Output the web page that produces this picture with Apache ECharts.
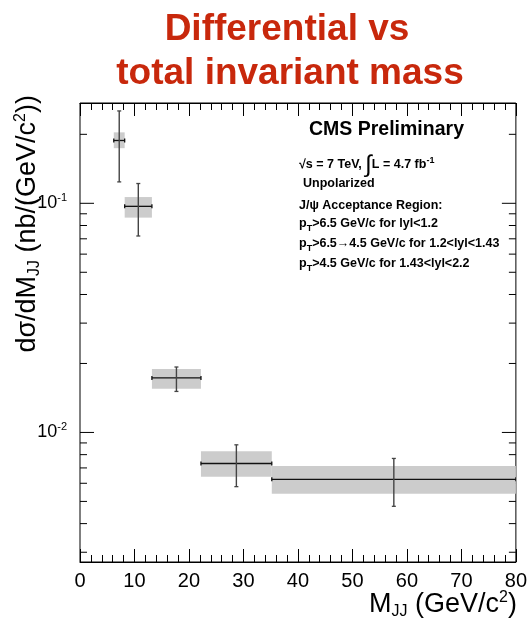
<!DOCTYPE html>
<html><head><meta charset="utf-8">
<script src="https://cdn.jsdelivr.net/npm/echarts@6/dist/echarts.min.js"></script>
<style>html,body{margin:0;padding:0;background:#fff}#c{width:530px;height:625px}</style>
</head><body><div id="c"></div>
<script>
// ---- data ----
const binCenters = [7.2, 10.7, 17.7, 28.7, 57.6];
const binLow     = [6.2, 8.2, 13.2, 22.2, 35.2];
const binHigh    = [8.2, 13.2, 22.2, 35.2, 80];
const values     = [0.188, 0.097, 0.0173, 0.00732, 0.00624];
const statLow    = [0.124, 0.072, 0.0151, 0.0058, 0.00476];
const statHigh   = [0.253, 0.122, 0.0193, 0.00883, 0.0077];
const sysLow     = [0.174, 0.0866, 0.0155, 0.0064, 0.0054];
const sysHigh    = [0.204, 0.1065, 0.0189, 0.00828, 0.00713];
const yMajorTicks = [0.01, 0.1];
const yMajorLabels = ['-2', '-1'];
const yMinorTicks = [0.003, 0.004, 0.005, 0.006, 0.007, 0.008, 0.009,
                     0.02, 0.03, 0.04, 0.05, 0.06, 0.07, 0.08, 0.09, 0.2];

const FONT = '"Liberation Sans", Arial, Helvetica, sans-serif';
const chart = echarts.init(document.getElementById('c'), null, {renderer: 'canvas'});

const pointData = binCenters.map((x, i) => [x, binLow[i], binHigh[i], values[i], statLow[i], statHigh[i], sysLow[i], sysHigh[i]]);
const tickData = yMajorTicks.map(v => [v, 1]).concat(yMinorTicks.map(v => [v, 0]));

function renderPoint(params, api) {
  const xc = api.value(0), xl = api.value(1), xh = api.value(2), y = api.value(3);
  const el = api.value(4), eh = api.value(5), sl = api.value(6), sh = api.value(7);
  const pC = api.coord([xc, y]), pL = api.coord([xl, y]), pH = api.coord([xh, y]);
  const pS1 = api.coord([xl, sl]), pS2 = api.coord([xh, sh]);
  const pE1 = api.coord([xc, el]), pE2 = api.coord([xc, eh]);
  const c = 2;
  return {type: 'group', children: [
    {type: 'rect', shape: {x: pS1[0], y: pS2[1], width: pS2[0] - pS1[0], height: pS1[1] - pS2[1]}, style: {fill: '#cccccc'}},
    {type: 'line', shape: {x1: pL[0], y1: pC[1], x2: pH[0], y2: pC[1]}, style: {stroke: '#111', lineWidth: 1.3}},
    {type: 'line', shape: {x1: pL[0], y1: pC[1] - c, x2: pL[0], y2: pC[1] + c}, style: {stroke: '#111', lineWidth: 1.3}},
    {type: 'line', shape: {x1: pH[0], y1: pC[1] - c, x2: pH[0], y2: pC[1] + c}, style: {stroke: '#111', lineWidth: 1.3}},
    {type: 'line', shape: {x1: pC[0], y1: pE1[1], x2: pC[0], y2: pE2[1]}, style: {stroke: '#444', lineWidth: 1.4}},
    {type: 'line', shape: {x1: pC[0] - c, y1: pE1[1], x2: pC[0] + c, y2: pE1[1]}, style: {stroke: '#444', lineWidth: 1.3}},
    {type: 'line', shape: {x1: pC[0] - c, y1: pE2[1], x2: pC[0] + c, y2: pE2[1]}, style: {stroke: '#444', lineWidth: 1.3}}
  ]};
}

function renderTick(params, api) {
  const v = api.value(0), major = api.value(1) === 1;
  const cs = params.coordSys;
  const p = api.coord([0, v]);
  const len = major ? 14 : 7;
  const left = cs.x, right = cs.x + cs.width;
  return {type: 'group', children: [
    {type: 'line', shape: {x1: left, y1: p[1], x2: left + len, y2: p[1]}, style: {stroke: '#000', lineWidth: 1}},
    {type: 'line', shape: {x1: right - len, y1: p[1], x2: right, y2: p[1]}, style: {stroke: '#000', lineWidth: 1}}
  ]};
}

const xAxisCommon = {
  type: 'value', min: 0, max: 80, interval: 10,
  axisLine: {show: true, lineStyle: {color: '#000', width: 1}},
  axisTick: {show: true, inside: true, length: 13, lineStyle: {color: '#000'}},
  minorTick: {show: true, splitNumber: 5, length: 7, lineStyle: {color: '#000'}},
  splitLine: {show: false}, minorSplitLine: {show: false}
};

const small = 'bold 12.5px ' + FONT;
const ptRich = {a: {font: small, fill: '#000'}, t: {font: 'bold 9px ' + FONT, fill: '#000', padding: [9, 0, 0, 0]}};

const option = {
  animation: false,
  backgroundColor: '#fff',
  grid: {left: 80, right: 13, top: 103, bottom: 63, show: true, borderColor: '#000', borderWidth: 1, backgroundColor: 'transparent'},
  xAxis: [
    Object.assign({}, xAxisCommon, {position: 'bottom',
      axisLabel: {show: true, fontSize: 20, color: '#000', fontFamily: FONT, margin: 9}}),
    Object.assign({}, xAxisCommon, {position: 'top', axisLabel: {show: false}})
  ],
  yAxis: [{
    type: 'log', logBase: 10, min: 0.00272, max: 0.274,
    axisLine: {show: false}, axisTick: {show: false}, splitLine: {show: false},
    axisLabel: {
      show: true, margin: 13, color: '#000', fontFamily: FONT,
      formatter: function (v) {
        for (let i = 0; i < yMajorTicks.length; i++) {
          if (Math.abs(v - yMajorTicks[i]) / yMajorTicks[i] < 1e-6) return '{b|10}{s|' + yMajorLabels[i] + '}';
        }
        return '';
      },
      rich: {
        b: {fontSize: 18, color: '#000', fontFamily: FONT},
        s: {fontSize: 11, color: '#000', fontFamily: FONT, padding: [0, 0, 10, 0]}
      }
    }
  }],
  series: [
    {type: 'custom', name: 'ticks', renderItem: renderTick, data: tickData, encode: {y: 0}, silent: true, clip: false},
    {type: 'custom', name: 'data', renderItem: renderPoint, data: pointData, encode: {x: 0, y: 3}, clip: true}
  ],
  graphic: [
    {type: 'text', x: 287, y: 30, style: {text: 'Differential vs', font: 'bold 37px ' + FONT, fill: '#c8280c', textAlign: 'center', textVerticalAlign: 'middle'}},
    {type: 'text', x: 290, y: 74, style: {text: 'total invariant mass', font: 'bold 37px ' + FONT, fill: '#c8280c', textAlign: 'center', textVerticalAlign: 'middle'}},
    {type: 'text', x: 309, y: 130, style: {text: 'CMS Preliminary', font: 'bold 19.5px ' + FONT, fill: '#000', textVerticalAlign: 'middle'}},
    {type: 'text', x: 299, y: 165, style: {
      text: '{a|√s = 7 TeV, }{i|∫}{a|L = 4.7 fb}{s|-1}', textVerticalAlign: 'middle',
      rich: {
        a: {font: small, fill: '#000'},
        i: {font: '24px ' + FONT, fill: '#000'},
        s: {font: 'bold 9px ' + FONT, fill: '#000', padding: [0, 0, 9, 0]}
      }}},
    {type: 'text', x: 303, y: 184, style: {text: 'Unpolarized', font: small, fill: '#000', textVerticalAlign: 'middle'}},
    {type: 'text', x: 299, y: 206, style: {text: 'J/ψ Acceptance Region:', font: small, fill: '#000', textVerticalAlign: 'middle'}},
    {type: 'text', x: 299, y: 224, style: {text: '{a|p}{t|T}{a|>6.5 GeV/c for lyl<1.2}', textVerticalAlign: 'middle', rich: ptRich}},
    {type: 'text', x: 299, y: 244, style: {text: '{a|p}{t|T}{a|>6.5→4.5 GeV/c for 1.2<lyl<1.43}', textVerticalAlign: 'middle', rich: ptRich}},
    {type: 'text', x: 299, y: 264, style: {text: '{a|p}{t|T}{a|>4.5 GeV/c for 1.43<lyl<2.2}', textVerticalAlign: 'middle', rich: ptRich}},
    {type: 'text', x: 517, y: 605, style: {
      text: '{a|M}{t|JJ}{a| (GeV/c}{s|2}{a|)}', textAlign: 'right', textVerticalAlign: 'middle',
      rich: {a: {font: '27px ' + FONT, fill: '#000'}, t: {font: '16px ' + FONT, fill: '#000', padding: [14, 0, 0, 0]},
             s: {font: '16px ' + FONT, fill: '#000', padding: [0, 0, 14, 0]}}}},
    {type: 'text', x: 28, y: 95, rotation: Math.PI / 2, style: {
      text: '{a|dσ/dM}{t|JJ}{a| (nb/(GeV/c}{s|2}{a|))}', textAlign: 'right', textVerticalAlign: 'middle',
      rich: {a: {font: '27px ' + FONT, fill: '#000'}, t: {font: '16px ' + FONT, fill: '#000', padding: [14, 0, 0, 0]},
             s: {font: '16px ' + FONT, fill: '#000', padding: [0, 0, 14, 0]}}}}
  ]
};
chart.setOption(option);
</script>
</body></html>
